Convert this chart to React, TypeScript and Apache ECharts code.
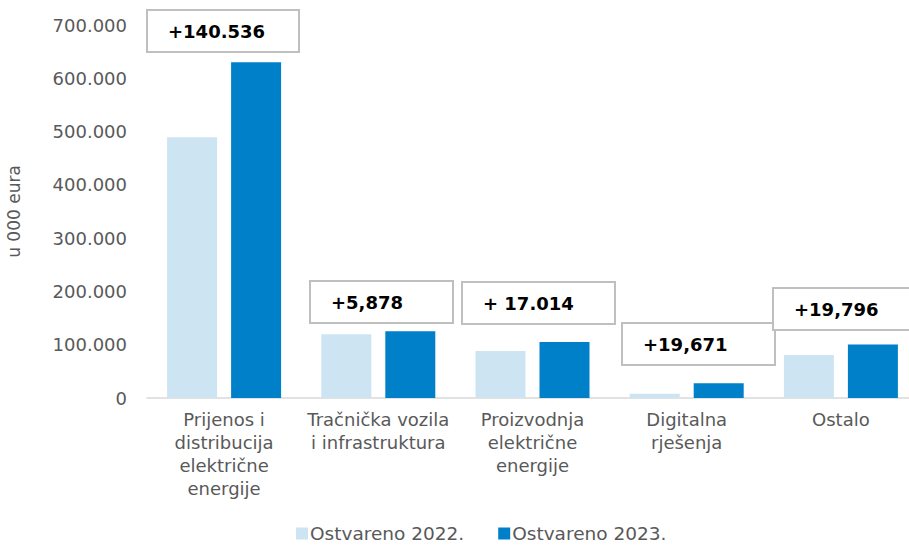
import React, { useEffect, useRef } from "react";
import * as echarts from "echarts";

const categories = [
  "Prijenos i\ndistribucija\nelektrične\nenergije",
  "Tračnička vozila\ni infrastruktura",
  "Proizvodnja\nelektrične\nenergije",
  "Digitalna\nrješenja",
  "Ostalo",
];
const seriesNames = ["Ostvareno 2022.", "Ostvareno 2023."];
const values2022 = [489500, 119500, 88000, 8000, 80800];
const values2023 = [630036, 125378, 105014, 27671, 100596];
const yTicks = [0, 100000, 200000, 300000, 400000, 500000, 600000, 700000];
const annotationTexts = ["+140.536", "+5,878", "+ 17.014", "+19,671", "+19,796"];

// annotation box layout (pixels)
const boxLayout = [
  { x: 147, y: 10, w: 152, h: 42, tx: 168 },
  { x: 310, y: 281, w: 143, h: 42, tx: 331 },
  { x: 462, y: 282, w: 153, h: 42, tx: 483 },
  { x: 622, y: 323, w: 153, h: 42, tx: 643 },
  { x: 773, y: 288, w: 153, h: 42, tx: 794 },
];

const FONT = "'DejaVu Sans', Verdana, sans-serif";

function fmt(v: number): string {
  return String(v).replace(/\B(?=(\d{3})+(?!\d))/g, ".");
}

export default function App() {
  const ref = useRef<HTMLDivElement>(null);
  useEffect(() => {
    if (!ref.current) return;
    const chart = echarts.init(ref.current, undefined, { renderer: "svg" });
    const graphics = annotationTexts.map((t, i) => {
      const b = boxLayout[i];
      return {
        type: "group",
        z: 100 + i,
        children: [
          {
            type: "rect",
            shape: { x: b.x, y: b.y, width: b.w, height: b.h },
            style: { fill: "#ffffff", stroke: "#bfbfbf", lineWidth: 2 },
          },
          {
            type: "text",
            x: b.tx,
            y: b.y + b.h / 2,
            style: {
              text: t,
              fill: "#000000",
              font: `bold 18px ${FONT}`,
              textVerticalAlign: "middle",
              verticalAlign: "middle",
            },
          },
        ],
      };
    });
    chart.setOption({
      animation: false,
      grid: {
        left: 147,
        width: 771,
        top: 25,
        bottom: 147,
        containLabel: false,
        outerBoundsMode: "none",
      },
      legend: {
        left: 296,
        top: 524,
        padding: 0,
        itemWidth: 12,
        itemHeight: 12,
        itemGap: 34,
        icon: "rect",
        textStyle: {
          fontFamily: FONT,
          fontSize: 18.5,
          lineHeight: 16,
          color: "#595959",
          padding: [0, 0, 0, -3],
        },
        data: seriesNames,
      },
      xAxis: {
        type: "category",
        data: categories,
        axisLine: { lineStyle: { color: "#d9d9d9", width: 1.5 } },
        axisTick: { show: false },
        axisLabel: {
          interval: 0,
          margin: 10,
          fontFamily: FONT,
          fontSize: 18,
          lineHeight: 23,
          color: "#595959",
          align: "center",
        },
      },
      yAxis: {
        type: "value",
        min: 0,
        max: yTicks[yTicks.length - 1],
        interval: yTicks[1] - yTicks[0],
        name: "u 000 eura",
        nameLocation: "middle",
        nameRotate: 90,
        nameGap: 125,
        nameTextStyle: { fontFamily: FONT, fontSize: 17, color: "#595959" },
        splitLine: { show: false },
        axisLine: { show: false },
        axisTick: { show: false },
        axisLabel: {
          margin: 20,
          fontFamily: FONT,
          fontSize: 18,
          color: "#595959",
          formatter: (v: number) => fmt(v),
        },
      },
      series: [
        {
          name: seriesNames[0],
          type: "bar",
          data: values2022,
          barWidth: 50,
          barGap: "28%",
          itemStyle: { color: "#cde4f3" },
        },
        {
          name: seriesNames[1],
          type: "bar",
          data: values2023,
          barWidth: 50,
          barGap: "28%",
          itemStyle: { color: "#0080c8" },
        },
      ],
      graphic: graphics,
    });
    return () => chart.dispose();
  }, []);
  return (
    <div
      ref={ref}
      style={{ position: "absolute", left: 0, top: 0, width: 909, height: 545 }}
    />
  );
}
